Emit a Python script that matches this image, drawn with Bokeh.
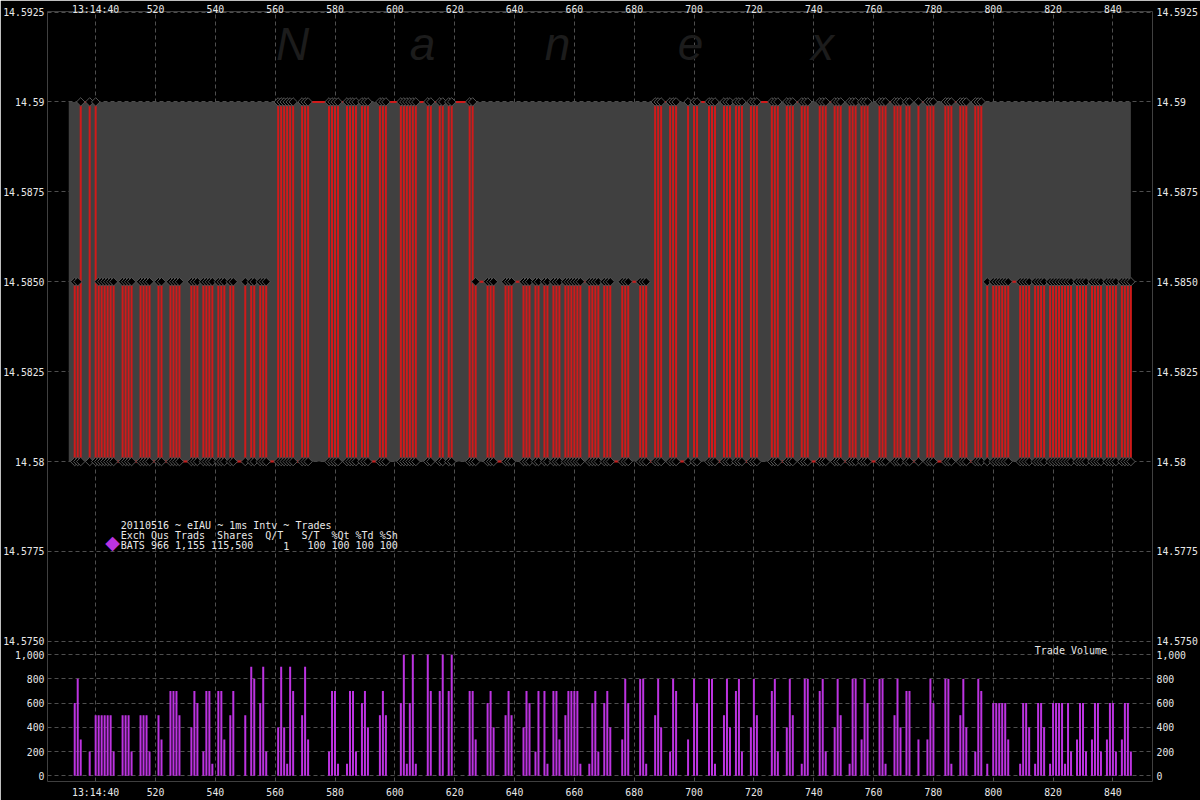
import re
import numpy as np
from bokeh.plotting import figure
from bokeh.models import (Range1d, LinearAxis, FixedTicker, CustomJSTickFormatter, Label)
from bokeh.embed import file_html
from bokeh.resources import INLINE

# ---------------- data ----------------
trade_ms = [
    493, 494, 495, 498, 500, 501, 502, 503, 504, 505, 506, 509, 510, 511, 512, 515, 516, 517, 518,
    521, 522, 525, 526, 527, 528, 532, 533, 534, 536, 537, 538, 539, 541, 542, 543, 545, 546, 550,
    552, 553, 555, 556, 557, 561, 562, 563, 564, 565, 566, 569, 570, 571, 578,
    579, 580, 581, 584, 585, 586, 587, 589, 590, 591, 595, 596, 597, 602, 603, 604, 605, 606, 607,
    611, 612, 615, 616, 618, 619, 625, 626, 627, 631, 632, 633, 637, 638, 639, 643, 644, 645, 647,
    648, 650, 651, 653, 654, 655, 657, 658, 659, 660, 661, 662, 665, 666, 667,
    668, 670, 671, 672, 676, 677, 678, 682, 683, 684, 687, 688, 689, 692, 693, 694, 698, 700, 701,
    705, 706, 707, 710, 711, 712, 714, 715, 716, 719, 720, 721, 726, 727, 728, 731, 732, 733, 736,
    737, 738, 742, 743, 744, 747, 748, 749, 752, 753, 754,
    756, 757, 758, 762, 763, 764, 767, 768, 769, 771, 772, 775, 778, 779, 780, 784, 785, 786, 789,
    790, 791, 794, 795, 796, 798, 800, 801, 802, 803, 804, 805, 809, 810, 811, 812, 814, 815, 816,
    817, 819, 820, 821, 822, 823, 824, 825, 826, 828, 829, 830, 831, 833, 834, 835, 836, 838, 839,
    840, 841, 843, 844, 845, 846,
]
trade_volume = [
    600, 800, 300, 200, 500, 500, 500, 500, 500, 500, 200, 500, 500, 500, 200, 500, 500, 500, 200,
    500, 300, 700, 700, 700, 500, 400, 700, 600, 200, 700, 700, 100, 700, 700, 300, 500, 700, 500,
    900, 800, 600, 900, 200, 400, 900, 400, 100, 900, 700, 500, 900, 300, 200,
    700, 700, 100, 100, 700, 700, 200, 600, 700, 400, 500, 700, 500, 600, 1000, 100, 600, 1000, 100,
    1000, 700, 700, 1000, 700, 1000, 700, 700, 300, 600, 700, 400, 500, 700, 500, 400, 700, 600, 200,
    700, 700, 100, 700, 700, 300, 500, 700, 700, 700, 700, 100, 100, 600, 700,
    200, 600, 700, 400, 300, 800, 600, 800, 800, 100, 500, 800, 400, 200, 800, 700, 300, 800, 600,
    800, 800, 100, 500, 800, 400, 700, 800, 200, 400, 800, 500, 700, 800, 200, 400, 800, 500, 100,
    800, 800, 700, 800, 200, 400, 800, 500, 100, 800, 800,
    300, 800, 600, 800, 800, 100, 500, 800, 400, 700, 700, 300, 300, 800, 600, 800, 800, 100, 500,
    800, 400, 200, 800, 700, 100, 600, 600, 600, 600, 600, 300, 100, 600, 600, 400, 100, 600, 600,
    400, 100, 600, 600, 600, 600, 100, 600, 200, 300, 600, 600, 200, 300, 600, 600, 200, 300, 600,
    600, 200, 300, 600, 600, 200,
]
# upper trade price in force from each start millisecond
regime_start_ms = [491, 495, 501, 561, 627, 687, 797]
regime_upper_price = [14.585, 14.59, 14.585, 14.59, 14.585, 14.59, 14.585]
low_trade_price = 14.58
bid_price = 14.58
ask_price = 14.59
quote_start_ms = 491
quote_end_ms = 846

price_ticks = [14.575, 14.5775, 14.58, 14.5825, 14.585, 14.5875, 14.59, 14.5925]
price_tick_labels = ["14.5750", "14.5775", "14.58", "14.5825", "14.5850", "14.5875", "14.59", "14.5925"]
volume_ticks = [0, 200, 400, 600, 800, 1000]
volume_tick_labels = ["0", "200", "400", "600", "800", "1,000"]
time_ticks = [500, 520, 540, 560, 580, 600, 620, 640, 660, 680, 700, 720, 740, 760, 780, 800, 820, 840]
time_first_label = "13:14:40"

legend_title = "20110516 ~ eIAU ~ 1ms Intv ~ Trades"
legend_header = "Exch Qus Trads  Shares  Q/T   S/T  %Qt %Td %Sh"
legend_row = "BATS 966 1,155 115,500     1   100 100 100 100"
legend_symbol = "\u25C6"
watermark_letters = ["N", "a", "n", "e", "x"]

# ---------------- styling ----------------
TXT = "#e8e8e8"
MONO = "DejaVu Sans Mono"
CHAR_W = 6.02          # advance of DejaVu Sans Mono at 10px
GRID = "#4e4e4e"
RED = "#d01a1a"
PURPLE = "#bc33e0"

FRAME_L, FRAME_R, FRAME_T, FRAME_B = 45, 1153, 8, 783

x_range = Range1d(483.9, 853.23)
y_range = Range1d(14.571105, 14.592514)
vol_range = Range1d(-47, 6306)

p = figure(width=1200, height=800, output_backend="svg", toolbar_location=None,
           x_range=x_range, y_range=y_range,
           background_fill_color="black", border_fill_color="black",
           outline_line_color=None,
           min_border_left=FRAME_L, min_border_right=1200 - FRAME_R,
           min_border_top=FRAME_T, min_border_bottom=800 - FRAME_B)
p.extra_y_ranges = {"vol": vol_range}


def vol_to_price(v):
    return y_range.start + (v - vol_range.start) * (y_range.end - y_range.start) / (vol_range.end - vol_range.start)


y_tick_vals = list(price_ticks) + [vol_to_price(v) for v in volume_ticks]
y_tick_labs = list(price_tick_labels) + list(volume_tick_labels)
y_ticker = FixedTicker(ticks=y_tick_vals)
y_fmt = CustomJSTickFormatter(args=dict(vals=y_tick_vals, labs=y_tick_labs), code="""
let best = 0, bd = Infinity;
for (let i = 0; i < vals.length; i++) {
  const d = Math.abs(vals[i] - tick);
  if (d < bd) { bd = d; best = i; }
}
return labs[best];
""")
x_ticker = FixedTicker(ticks=time_ticks)


def style_axis(ax, standoff):
    ax.axis_line_color = None
    ax.major_tick_line_color = None
    ax.minor_tick_line_color = None
    ax.major_tick_out = 0
    ax.major_tick_in = 0
    ax.major_label_text_font = MONO
    ax.major_label_text_font_size = "9.8px"
    ax.major_label_text_color = TXT
    ax.major_label_standoff = standoff


p.xaxis.ticker = x_ticker
p.xaxis.major_label_overrides = {500: time_first_label}
style_axis(p.xaxis[0], 5)
top_axis = LinearAxis(ticker=x_ticker, major_label_overrides={500: time_first_label})
style_axis(top_axis, -3)
p.add_layout(top_axis, "above")

p.yaxis.ticker = y_ticker
p.yaxis.formatter = y_fmt
style_axis(p.yaxis[0], 3)
right_axis = LinearAxis(ticker=y_ticker, formatter=y_fmt)
style_axis(right_axis, 4)
p.add_layout(right_axis, "right")

p.xgrid.ticker = x_ticker
p.ygrid.ticker = y_ticker
for g in (p.xgrid[0], p.ygrid[0]):
    g.grid_line_color = GRID
    g.grid_line_dash = "4 3"
    g.grid_line_width = 1

# watermark
wm_x = [290, 420, 555, 688, 820]
for letter, cx in zip(watermark_letters, wm_x):
    p.add_layout(Label(x=cx - FRAME_L, y=FRAME_B - 45, x_units="screen", y_units="screen",
                       text=letter, text_align="center", text_baseline="alphabetic",
                       text_font="Liberation Sans", text_font_style="italic",
                       text_font_size="46px", text_color="#1c1c1c"))

# quote band (bid/ask)
p.quad(left=[quote_start_ms], right=[quote_end_ms], bottom=[bid_price], top=[ask_price],
       fill_color="#404040", line_color=None)

# trade price path
starts = np.array(regime_start_ms)
upper = [regime_upper_price[int(np.searchsorted(starts, t, side="right")) - 1] for t in trade_ms]
path_x, path_y = [], []
prev = low_trade_price
n = len(trade_ms)
for i, (t, hi) in enumerate(zip(trade_ms, upper)):
    nxt_hi = upper[i + 1] if i + 1 < n else hi
    if prev == hi:
        ys = [hi, low_trade_price]
    elif nxt_hi != hi:
        ys = [low_trade_price, hi, low_trade_price]
    else:
        ys = [low_trade_price, hi]
    path_x += [t] * len(ys)
    path_y += ys
    prev = ys[-1]
p.line(path_x, path_y, line_color=RED, line_width=2)
p.scatter(x=list(trade_ms) + list(trade_ms), y=upper + [low_trade_price] * n,
          marker="square", angle=np.pi / 4, size=6, fill_color="black",
          line_color="#555555", line_width=1)

# volume bars
p.vbar(x=trade_ms, top=trade_volume, bottom=0, width=0.67, y_range_name="vol",
       fill_color=PURPLE, line_color=None)

# legend block (monospace columns kept by placing each space-separated run at its column)
TEXT_X0 = 118.3


def add_mono_line(s, base):
    for m in re.finditer(r"\S+(?: \S+)*", s):
        p.add_layout(Label(x=TEXT_X0 + m.start() * CHAR_W - FRAME_L, y=FRAME_B - base,
                           x_units="screen", y_units="screen", text=m.group(),
                           text_font=MONO, text_font_size="10px", text_color=TXT,
                           text_baseline="alphabetic"))


add_mono_line(legend_title, 527.3)
add_mono_line(legend_header, 537.3)
add_mono_line(legend_row, 547.3)

# legend symbol for the BATS series
p.add_layout(Label(x=110 - FRAME_L, y=FRAME_B - 543.5, x_units="screen", y_units="screen",
                   text=legend_symbol, text_align="center", text_baseline="middle",
                   text_font="DejaVu Sans", text_font_size="19px", text_color=PURPLE))

p.add_layout(Label(x=1032.3 - FRAME_L, y=FRAME_B - 651.5, x_units="screen", y_units="screen",
                   text="Trade Volume", text_font=MONO, text_font_size="10px", text_color=TXT,
                   text_baseline="alphabetic"))

open("out.html", "w").write(file_html(p, INLINE))
